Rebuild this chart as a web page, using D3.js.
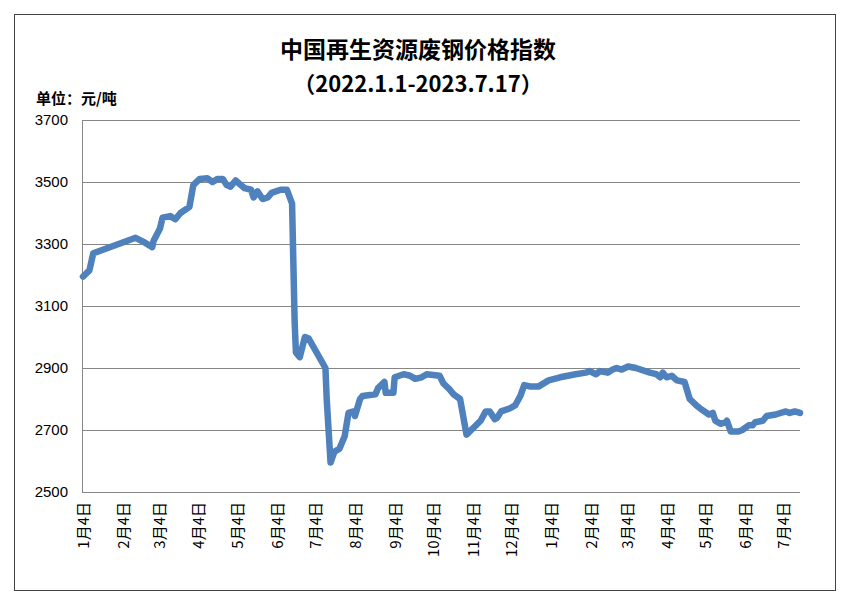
<!DOCTYPE html>
<html><head><meta charset="utf-8">
<script src="https://cdn.jsdelivr.net/npm/d3@7"></script>
<style>body{margin:0;background:#fff;font-family:"Noto Sans CJK SC","Liberation Sans",sans-serif}</style>
</head><body><svg id="c" width="852" height="608"></svg>
<script>
const days=[0,5,8,41,48,54,55,60,62,68,72,76,83,86,91,97,101,105,109,112,115,119,126,131,133,136,140,144,147,154,159,163,165,166,169,173,176,189,190,193,196,200,204,207,211,212,216,218,228,230,235,236,242,243,250,255,259,264,268,278,281,286,289,294,299,310,314,317,321,323,326,333,337,341,344,349,355,363,372,384,392,395,400,403,409,413,416,420,425,431,442,447,450,452,455,459,463,469,473,478,481,488,491,493,497,501,502,505,511,514,519,522,524,530,533,540,548,551,555,559];
const values=[3195,3215,3270,3320,3305,3290,3310,3350,3385,3390,3380,3400,3420,3490,3510,3512,3500,3510,3510,3490,3485,3505,3480,3475,3450,3470,3445,3450,3465,3475,3475,3430,3050,2950,2935,3000,2995,2900,2800,2595,2630,2640,2680,2755,2760,2745,2800,2810,2815,2835,2855,2820,2820,2870,2880,2875,2865,2870,2880,2875,2850,2830,2815,2800,2685,2730,2760,2760,2735,2740,2760,2770,2780,2810,2845,2840,2840,2860,2870,2880,2885,2890,2880,2890,2885,2895,2900,2895,2905,2900,2885,2880,2870,2885,2870,2875,2860,2855,2800,2780,2770,2750,2755,2730,2720,2725,2730,2695,2695,2700,2715,2715,2725,2730,2745,2750,2760,2755,2760,2755];
const tickDays=[0,31,59,90,120,151,181,212,243,273,304,334,365,396,424,455,485,516,546];
const tickLabels=["1月4日","2月4日","3月4日","4月4日","5月4日","6月4日","7月4日","8月4日","9月4日","10月4日","11月4日","12月4日","1月4日","2月4日","3月4日","4月4日","5月4日","6月4日","7月4日"];
const yTicks=[2500,2700,2900,3100,3300,3500,3700];

const svg=d3.select("#c");
svg.append("rect").attr("x",14.5).attr("y",14.5).attr("width",821).attr("height",576).attr("fill","#fff").attr("stroke","#444").attr("stroke-width",1);
const x=d3.scaleLinear().domain([0,559]).range([83,800]);
const y=d3.scaleLinear().domain([2500,3700]).range([492,120]);
const g=svg.append("g");
g.selectAll("line.grid").data(yTicks).join("line").attr("x1",82).attr("x2",800).attr("y1",d=>y(d)+.5).attr("y2",d=>y(d)+.5).attr("stroke","#868686");
g.append("line").attr("x1",82.5).attr("x2",82.5).attr("y1",120).attr("y2",492).attr("stroke","#868686");
g.selectAll("text.yl").data(yTicks).join("text").attr("x",68).attr("y",d=>y(d)+5).attr("text-anchor","end").attr("font-size",15).attr("font-family","Liberation Sans, sans-serif").text(d=>d);
g.selectAll("text.xl").data(tickDays).join("text").attr("transform",(d,i)=>`translate(${x(d)+6},502) rotate(-90)`).attr("text-anchor","end").attr("font-size",15).text((d,i)=>tickLabels[i]);
const pts=days.map((d,i)=>[x(d),y(values[i])]);
g.append("path").attr("d",d3.line()(pts)).attr("fill","none").attr("stroke","#4f81bd").attr("stroke-width",6.5).attr("stroke-linejoin","round").attr("stroke-linecap","round");
svg.append("text").attr("x",418).attr("y",58).attr("text-anchor","middle").attr("font-size",23).attr("font-weight","bold").text("中国再生资源废钢价格指数");
svg.append("text").attr("x",418).attr("y",92).attr("text-anchor","middle").attr("font-size",22).attr("font-weight","bold").text("（2022.1.1-2023.7.17）");
svg.append("text").attr("x",36).attr("y",104).attr("font-size",15).attr("font-weight","bold").text("单位：元/吨");
</script></body></html>
